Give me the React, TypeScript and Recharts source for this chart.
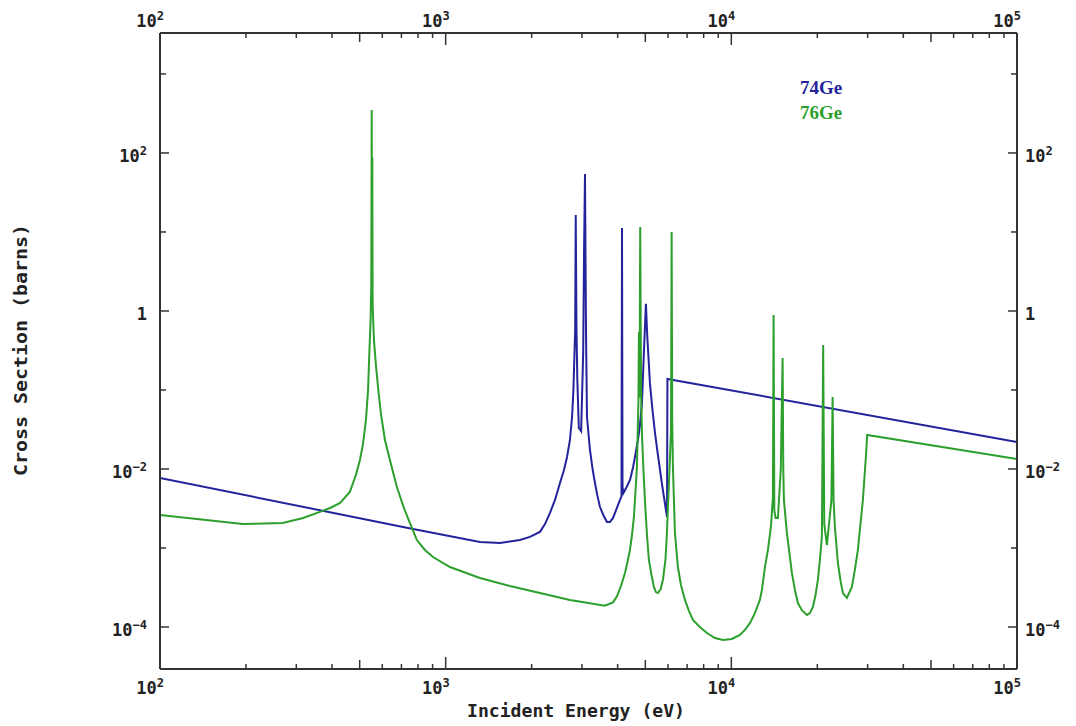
import React from "react";
import { LineChart, Line, XAxis, YAxis } from "recharts";

// [incident energy (eV), cross section (barns)]
const ge74: [number, number][] = [
  [100, 0.0077], [738, 0.00179], [1318, 0.00119], [1549, 0.00116],
  [1820, 0.00126], [1972, 0.00138], [2138, 0.0016], [2227, 0.00201],
  [2317, 0.00277], [2414, 0.00406], [2513, 0.00665], [2595, 0.0097],
  [2660, 0.0142], [2723, 0.0233], [2770, 0.0455], [2800, 0.1],
  [2840, 0.574], [2853, 16.4], [2870, 0.6], [2890, 0.134], [2925, 0.033],
  [2980, 0.03], [3030, 0.3], [3050, 5], [3074, 54], [3100, 0.5],
  [3124, 0.0455], [3200, 0.0174], [3265, 0.0102], [3332, 0.00665],
  [3397, 0.0046], [3469, 0.0033], [3566, 0.0026], [3670, 0.00213],
  [3758, 0.00213], [3854, 0.0024], [4076, 0.00406], [4125, 0.0045],
  [4143, 11.2], [4160, 0.006], [4190, 0.00497], [4300, 0.00592],
  [4420, 0.00726], [4530, 0.0106], [4600, 0.0142], [4711, 0.0233],
  [4788, 0.036], [4866, 0.0684], [4946, 0.321], [5023, 1.23],
  [5080, 0.469], [5188, 0.123], [5296, 0.0558], [5405, 0.0286],
  [5516, 0.0164], [5629, 0.0097], [5723, 0.00627], [5810, 0.00442],
  [5954, 0.00247], [5975, 0.138], [100000, 0.022],
];

const ge76: [number, number][] = [
  [100, 0.00262], [195, 0.00201], [269, 0.00207], [317, 0.0024],
  [363, 0.00286], [394, 0.00321], [427, 0.00371], [462, 0.00512],
  [485, 0.0084], [501, 0.013], [513, 0.0201], [526, 0.0417], [535, 0.1],
  [541, 0.321], [546, 0.769], [549, 2.0], [551, 350], [552.5, 1.5],
  [553.5, 89], [555, 1.2], [561, 0.43], [570, 0.207], [581, 0.1],
  [594, 0.0483], [613, 0.0233], [638, 0.013], [675, 0.00592],
  [714, 0.00321], [750, 0.00207], [793, 0.00126], [846, 0.000944],
  [903, 0.000769], [1035, 0.000574], [1318, 0.000417], [1679, 0.00033],
  [2138, 0.000269], [2723, 0.00022], [3200, 0.0002], [3600, 0.000186],
  [3854, 0.000205], [3977, 0.000245], [4110, 0.00033], [4242, 0.000483],
  [4330, 0.000665], [4416, 0.000944], [4490, 0.00146], [4560, 0.00247],
  [4617, 0.00512], [4672, 0.0106], [4730, 0.0747], [4748, 0.542],
  [4770, 0.08], [4798, 11.6], [4830, 0.1], [4864, 0.0286], [4924, 0.0097],
  [4983, 0.00406], [5066, 0.00146], [5146, 0.000705], [5255, 0.000455],
  [5358, 0.000321], [5445, 0.000277], [5534, 0.000269], [5655, 0.0003],
  [5761, 0.000394], [5880, 0.000705], [5950, 0.00155], [6047, 0.00665],
  [6150, 0.03], [6180, 10.0], [6210, 0.04], [6245, 0.0106],
  [6347, 0.00155], [6501, 0.000574], [6661, 0.00034], [6880, 0.00022],
  [7105, 0.00016], [7338, 0.000123], [7762, 0.0001], [8212, 0.000084],
  [8763, 0.0000726], [9344, 0.0000685], [10046, 0.0000705], [10715, 0.0000792],
  [11157, 0.0000917], [11614, 0.000112], [12090, 0.00015], [12589, 0.00022],
  [12794, 0.000294], [13112, 0.000574], [13430, 0.000944], [13758, 0.00185],
  [13982, 0.00442], [14060, 0.889], [14140, 0.003], [14289, 0.0024],
  [14555, 0.0024], [14900, 0.01], [15118, 0.254], [15200, 0.01],
  [15276, 0.00406], [15649, 0.00155], [16293, 0.000483], [16697, 0.000294],
  [17100, 0.000201], [17660, 0.000163], [18385, 0.000142], [18836, 0.00015],
  [19293, 0.000179], [19700, 0.00025], [20090, 0.000394], [20420, 0.000705],
  [20749, 0.00138], [20965, 0.371], [21150, 0.002], [21602, 0.00109],
  [22400, 0.004], [22621, 0.0815], [22800, 0.004], [23041, 0.00185],
  [23605, 0.000646], [24150, 0.000372], [24576, 0.000269], [25381, 0.000233],
  [26424, 0.000321], [27000, 0.000503], [27733, 0.000944], [28873, 0.00406],
  [29580, 0.0142], [29890, 0.0269], [100000, 0.0134],
];

const series = [
  { name: "74Ge", color: "#23239b", points: ge74 },
  { name: "76Ge", color: "#2c9f2c", points: ge76 },
];

const xTicks = [
  100, 200, 300, 400, 500, 600, 700, 800, 900,
  1000, 2000, 3000, 4000, 5000, 6000, 7000, 8000, 9000,
  10000, 20000, 30000, 40000, 50000, 60000, 70000, 80000, 90000,
  100000,
];
const xLabelled = [100, 1000, 10000, 100000];
const yTicks = [1e-4, 1e-3, 1e-2, 1e-1, 1, 10, 100, 1000];
const yLabelled = [1e-4, 1e-2, 1, 100];

const xDomain = [100, 100000];
const yDomain = [2.94e-5, 3300];

const axisColor = "#333";
const tickFont = "DejaVu Sans Mono, monospace";

const toRows = (pts: [number, number][]) => pts.map(([e, xs]) => ({ e, xs }));

function PowerText({ x, y, anchor, value }: { x: number; y: number; anchor: "start" | "end"; value: number }) {
  const exp = Math.round(Math.log10(value));
  const sup = exp === 0 ? "" : exp < 0 ? "\u2212" + Math.abs(exp) : String(exp);
  return (
    <text x={x} y={y} textAnchor={anchor} fontFamily={tickFont} fontWeight="bold" fontSize={17} fill="#222">
      {exp === 0 ? "1" : "10"}
      {sup && (
        <tspan dy={-7} fontSize={12}>
          {sup}
        </tspan>
      )}
    </text>
  );
}

const xTickLen = (v: number) => {
  const m = Math.round(v / 10 ** Math.floor(Math.log10(v) + 1e-9));
  return m === 1 ? 12 : m === 5 ? 9 : 5;
};

const BottomTick = (p: any) => {
  const v = p.payload.value;
  return (
    <g>
      <line x1={p.x} x2={p.x} y1={p.y} y2={p.y - xTickLen(v)} stroke={axisColor} strokeWidth={1.5} />
      {xLabelled.includes(v) && <PowerText x={p.x + 4} y={p.y + 25} anchor="end" value={v} />}
    </g>
  );
};

const TopTick = (p: any) => {
  const v = p.payload.value;
  return (
    <g>
      <line x1={p.x} x2={p.x} y1={p.y} y2={p.y + xTickLen(v)} stroke={axisColor} strokeWidth={1.5} />
      {xLabelled.includes(v) && <PowerText x={p.x + 4} y={p.y - 6} anchor="end" value={v} />}
    </g>
  );
};

const LeftTick = (p: any) => {
  const v = p.payload.value;
  const big = yLabelled.includes(v);
  return (
    <g>
      <line x1={p.x} x2={p.x + (big ? 9 : 6)} y1={p.y} y2={p.y} stroke={axisColor} strokeWidth={1.5} />
      {big && <PowerText x={p.x - 13} y={p.y + 9} anchor="end" value={v} />}
    </g>
  );
};

const RightTick = (p: any) => {
  const v = p.payload.value;
  const big = yLabelled.includes(v);
  return (
    <g>
      <line x1={p.x} x2={p.x - (big ? 9 : 6)} y1={p.y} y2={p.y} stroke={axisColor} strokeWidth={1.5} />
      {big && <PowerText x={p.x + 8} y={p.y + 9} anchor="start" value={v} />}
    </g>
  );
};

const axisLine = { stroke: axisColor, strokeWidth: 2 };

export default function App() {
  return (
    <div style={{ position: "absolute", left: 0, top: 0, width: 1076, height: 726, background: "#fff" }}>
      <LineChart width={1076} height={726} margin={{ top: 32, right: 58, bottom: 56, left: 159 }}>
        <XAxis
          xAxisId="bottom"
          dataKey="e"
          type="number"
          scale="log"
          domain={xDomain}
          allowDataOverflow
          ticks={xTicks}
          interval={0}
          height={1}
          tickSize={0}
          tickMargin={0}
          tickLine={false}
          axisLine={axisLine}
          tick={BottomTick}
        />
        <XAxis
          xAxisId="top"
          orientation="top"
          dataKey="e"
          type="number"
          scale="log"
          domain={xDomain}
          allowDataOverflow
          ticks={xTicks}
          interval={0}
          height={1}
          tickSize={0}
          tickMargin={0}
          tickLine={false}
          axisLine={axisLine}
          tick={TopTick}
        />
        <YAxis
          yAxisId="left"
          type="number"
          scale="log"
          domain={yDomain}
          allowDataOverflow
          ticks={yTicks}
          interval={0}
          width={1}
          tickSize={0}
          tickMargin={0}
          tickLine={false}
          axisLine={axisLine}
          tick={LeftTick}
        />
        <YAxis
          yAxisId="right"
          orientation="right"
          type="number"
          scale="log"
          domain={yDomain}
          allowDataOverflow
          ticks={yTicks}
          interval={0}
          width={1}
          tickSize={0}
          tickMargin={0}
          tickLine={false}
          axisLine={axisLine}
          tick={RightTick}
        />
        {series.map((s) => (
          <Line
            key={s.name}
            name={s.name}
            xAxisId="bottom"
            yAxisId="left"
            data={toRows(s.points)}
            dataKey="xs"
            type="linear"
            stroke={s.color}
            strokeWidth={2}
            dot={false}
            activeDot={false}
            isAnimationActive={false}
          />
        ))}
      </LineChart>
      <svg width={1076} height={726} style={{ position: "absolute", left: 0, top: 0, pointerEvents: "none" }}>
        <text
          x={576}
          y={717}
          textAnchor="middle"
          fontFamily={tickFont}
          fontWeight="bold"
          fontSize={17}
          fill="#222"
          textLength={218}
          lengthAdjust="spacingAndGlyphs"
        >
          Incident Energy (eV)
        </text>
        <text
          x={0}
          y={0}
          transform="translate(27 350) rotate(-90)"
          textAnchor="middle"
          fontFamily={tickFont}
          fontWeight="bold"
          fontSize={17}
          fill="#222"
          textLength={252}
          lengthAdjust="spacingAndGlyphs"
        >
          Cross Section (barns)
        </text>
        {series.map((s, i) => (
          <text
            key={s.name}
            x={800}
            y={94 + i * 25}
            fontFamily="Liberation Serif, serif"
            fontWeight="bold"
            fontSize={19}
            fill={s.color}
          >
            {s.name}
          </text>
        ))}
      </svg>
    </div>
  );
}
